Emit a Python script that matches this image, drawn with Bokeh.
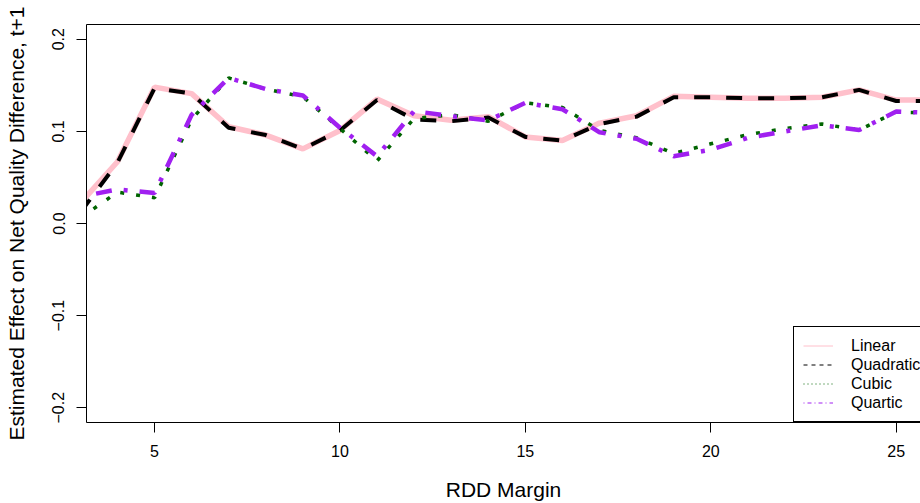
import numpy as np
from bokeh.plotting import figure
from bokeh.models import Range1d, LinearAxis, FixedTicker, Legend, LegendItem, ColumnDataSource
from bokeh.embed import file_html
from bokeh.resources import INLINE

# ---- data ----
margin = [3, 4, 5, 6, 7, 8, 9, 10, 11, 12, 13, 14, 15, 16, 17, 18, 19, 20, 21, 22, 23, 24, 25, 26]
linear = [0.022, 0.067, 0.148, 0.141, 0.105, 0.096, 0.081, 0.101, 0.135, 0.117, 0.112, 0.116,
          0.094, 0.090, 0.109, 0.117, 0.138, 0.137, 0.136, 0.136, 0.137, 0.145, 0.134, 0.134]
quadratic = [0.012, 0.066, 0.147, 0.141, 0.104, 0.096, 0.081, 0.101, 0.134, 0.113, 0.111, 0.115,
             0.094, 0.090, 0.108, 0.116, 0.137, 0.137, 0.136, 0.136, 0.137, 0.145, 0.133, 0.133]
cubic = [0.006, 0.034, 0.028, 0.113, 0.158, 0.146, 0.1375, 0.103, 0.068, 0.114, 0.118, 0.111,
         0.131, 0.126, 0.101, 0.093, 0.076, 0.0865, 0.0965, 0.103, 0.108, 0.1015, 0.121, 0.120]
quartic = [0.029, 0.037, 0.033, 0.118, 0.158, 0.146, 0.139, 0.104, 0.073, 0.122, 0.1165, 0.112,
           0.131, 0.124, 0.099, 0.092, 0.073, 0.080, 0.093, 0.100, 0.1065, 0.1015, 0.1215, 0.120]
series_names = ["Linear", "Quadratic", "Cubic", "Quartic"]

x_ticks = [5, 10, 15, 20, 25]
y_ticks = [-0.2, -0.1, 0.0, 0.1, 0.2]
y_tick_labels = ["\u22120.2", "\u22120.1", "0.0", "0.1", "0.2"]

FONT = "Liberation Sans"

p = figure(width=920, height=503, output_backend="svg", toolbar_location=None,
           x_range=Range1d(3.165, 25.655), y_range=Range1d(-0.216, 0.216),
           min_border_left=86, min_border_right=0, min_border_top=24, min_border_bottom=80,
           x_axis_label="RDD Margin",
           y_axis_label="Estimated Effect on Net Quality Difference, t+1")
p.outline_line_color = None
p.grid.visible = False
p.background_fill_color = "white"
p.border_fill_color = "white"

xa = p.xaxis[0]
ya = p.yaxis[0]
xa.ticker = FixedTicker(ticks=x_ticks)
ya.ticker = FixedTicker(ticks=y_ticks)
ya.major_label_overrides = dict(zip(y_ticks, y_tick_labels))
ya.major_label_orientation = "vertical"
for ax in (xa, ya):
    ax.axis_line_color = "black"
    ax.major_tick_line_color = "black"
    ax.major_tick_in = 0
    ax.major_tick_out = 10
    ax.minor_tick_line_color = None
    ax.major_label_text_font = FONT
    ax.major_label_text_font_size = "16px"
    ax.major_label_text_color = "black"
    ax.major_label_standoff = 12
    ax.axis_label_text_font = FONT
    ax.axis_label_text_font_size = "21px"
    ax.axis_label_text_font_style = "normal"
    ax.axis_label_text_color = "black"
xa.axis_label_standoff = 18
ya.axis_label_standoff = 22

top = LinearAxis(ticker=FixedTicker(ticks=[]), major_label_text_font_size="0px",
                 major_tick_out=0, major_tick_in=0, minor_tick_out=0, minor_tick_in=0,
                 axis_line_color="black", major_label_standoff=0)
p.add_layout(top, "above")

src = ColumnDataSource(dict(x=margin, linear=linear, quadratic=quadratic, cubic=cubic, quartic=quartic))

p.line("x", "linear", source=src, line_color="#FFC0CB", line_width=5.5)
p.line("x", "quadratic", source=src, line_color="black", line_width=4, line_dash="16 16")
p.line("x", "cubic", source=src, line_color="#006400", line_width=3.5, line_dash="4 12")
p.line("x", "quartic", source=src, line_color="#A020F0", line_width=4.5, line_dash="4 12 16 12")

# thin-line legend samples (renderers with no drawable data, used only by the legend)
blank = ColumnDataSource(dict(x=np.array([np.nan]), y=np.array([np.nan])))
r1 = p.line("x", "y", source=blank, line_color="#FFC0CB", line_width=1)
r2 = p.line("x", "y", source=blank, line_color="black", line_width=1, line_dash="4 4")
r3 = p.line("x", "y", source=blank, line_color="#006400", line_width=1, line_dash="1 3")
r4 = p.line("x", "y", source=blank, line_color="#A020F0", line_width=1, line_dash="1 3 4 3")

legend = Legend(items=[LegendItem(label=n, renderers=[r]) for n, r in zip(series_names, [r1, r2, r3, r4])],
                location=(707, 0), orientation="vertical",
                padding=9, spacing=0, margin=0,
                glyph_width=30, glyph_height=19, label_height=19, label_standoff=18,
                label_text_font=FONT, label_text_font_size="16px", label_text_color="black",
                border_line_color="black", border_line_width=1, border_line_alpha=1,
                background_fill_color="white", background_fill_alpha=1)
p.add_layout(legend, "center")

open("out.html", "w").write(file_html(p, INLINE))
